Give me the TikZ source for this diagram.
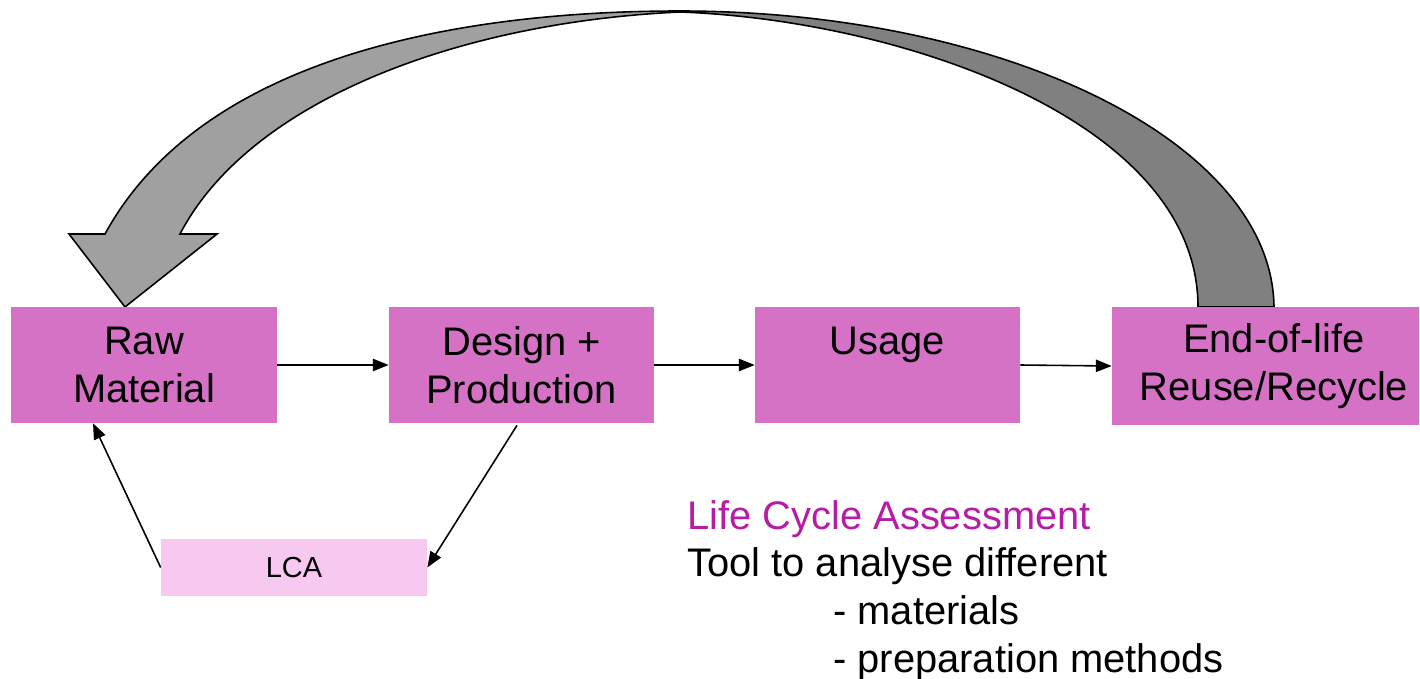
\documentclass[tikz,border=0pt]{standalone}
\usepackage{fontspec}
\setmainfont{Liberation Sans}
\usetikzlibrary{arrows.meta}
\definecolor{boxpink}{RGB}{214,114,198}
\definecolor{lcapink}{RGB}{247,201,240}
\definecolor{titlemag}{RGB}{182,28,166}
\definecolor{arrlight}{RGB}{160,160,160}
\definecolor{arrdark}{RGB}{128,128,128}
\tikzset{
  stagebox/.style={rectangle, fill=boxpink, draw=none, align=center, inner sep=0pt,
    minimum height=2.32cm, font=\fontsize{22.7}{27.2}\selectfont},
  lcabox/.style={rectangle, fill=lcapink, draw=none, inner sep=0pt,
    minimum width=5.32cm, minimum height=1.14cm, font=\fontsize{16.5}{19.8}\selectfont},
  flow/.style={draw=black, line width=0.9pt, -{Triangle[length=9pt,width=7pt]}},
  bigarrow/.style={draw=black, line width=0.9pt, line join=miter},
  notes/.style={align=left, inner sep=0pt, anchor=north west, font=\fontsize{22.7}{27.1}\selectfont}
}
\begin{document}
\begin{tikzpicture}[x=0.02cm, y=-0.02cm]
\useasboundingbox (0,0) rectangle (1420,679);

% big return arrow: left (light) part with head
\filldraw[bigarrow, fill=arrlight]
  (69,234) -- (105,234)
  .. controls (200,60) and (450,11) .. (680,11)
  -- (680,12)
  .. controls (460,22) and (250,100) .. (180,234)
  -- (217,234) -- (125,307) -- cycle;
% big return arrow: right (dark) part
\filldraw[bigarrow, fill=arrdark]
  (680,11) .. controls (1000,11) and (1272,140) .. (1274,307)
  -- (1198,307)
  .. controls (1198,120) and (900,20) .. (680,12)
  -- cycle;

% stage boxes
\node[stagebox, minimum width=5.32cm] (raw) at (144,365) {Raw\\Material};
\node[stagebox, minimum width=5.30cm] (design) at (521.5,365) {Design +\\Production};
\node[stagebox, minimum width=5.30cm] (usage) at (887.5,365) {Usage\\\mbox{}};
\node[stagebox, minimum width=6.14cm, minimum height=2.36cm] (end) at (1265.5,366)
  {\hspace*{0.34cm}End-of-life\\\hspace*{0.34cm}Reuse/Recycle};
\node[lcabox] (lca) at (294,567.5) {LCA};

% flow connectors
\draw[flow] (raw.east) -- (design.west);
\draw[flow] (design.east) -- (usage.west);
\draw[flow] (usage.east) -- (end.west);
\draw[flow] ([xshift=-0.09cm,yshift=-0.04cm]design.south) -- (lca.east);
\draw[flow] (lca.west) -- ([xshift=-1.02cm]raw.south);

% explanatory text
\node[notes] (note) at (687,500) {\textcolor{titlemag}{Life Cycle Assessment}\\
Tool to analyse different\\
\hspace*{2.92cm}- materials\\
\hspace*{2.92cm}- preparation methods};
\end{tikzpicture}
\end{document}
